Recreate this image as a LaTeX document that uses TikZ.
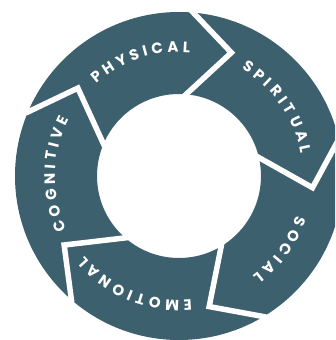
\documentclass[tikz,border=0pt]{standalone}
\usepackage{fontspec}
\setmainfont{Poppins}
\newfontfamily\ringfont{Poppins}[WordSpace=1.25]
\usepackage{tikz}
\usetikzlibrary{decorations.text}
\definecolor{ringteal}{HTML}{3D606E}

\begin{document}
\begin{tikzpicture}[x=1pt, y=1pt,
    ringtext/.style={decorate, decoration={text along path, text align=center, text color=white,
        text={|\ringfont\bfseries\fontsize{15}{18}\selectfont|#1}}}]
    % Styles
    \tikzstyle{segment} = [fill=ringteal, even odd rule]
    \tikzstyle{gap} = [draw=white, line width=5.5pt, line join=miter, line cap=rect]

    \clip (-179,-164) rectangle (156,176);

    % Ring
    \fill[segment] (0,0) circle[radius=164pt] (0,0) circle[radius=82pt];

    % Chevron gaps between the segments
    \foreach \a in {85,13,-59,-131,-203}
        \draw[gap] (\a:82pt) -- (\a-18:134pt) -- (\a:164pt);

    % Labels
    \path[ringtext={P H Y S I C A L}] (158.5:124pt) arc[start angle=158.5, end angle=58.5, radius=124pt];
    \path[ringtext={S P I R I T U A L}] (85:124pt) arc[start angle=85, end angle=-15, radius=124pt];
    \path[ringtext={S O C I A L}] (14:124pt) arc[start angle=14, end angle=-86, radius=124pt];
    \path[ringtext={E M O T I O N A L}] (-62:124pt) arc[start angle=-62, end angle=-162, radius=124pt];
    \path[ringtext={C O G N I T I V E}] (229:124pt) arc[start angle=229, end angle=129, radius=124pt];
\end{tikzpicture}
\end{document}
